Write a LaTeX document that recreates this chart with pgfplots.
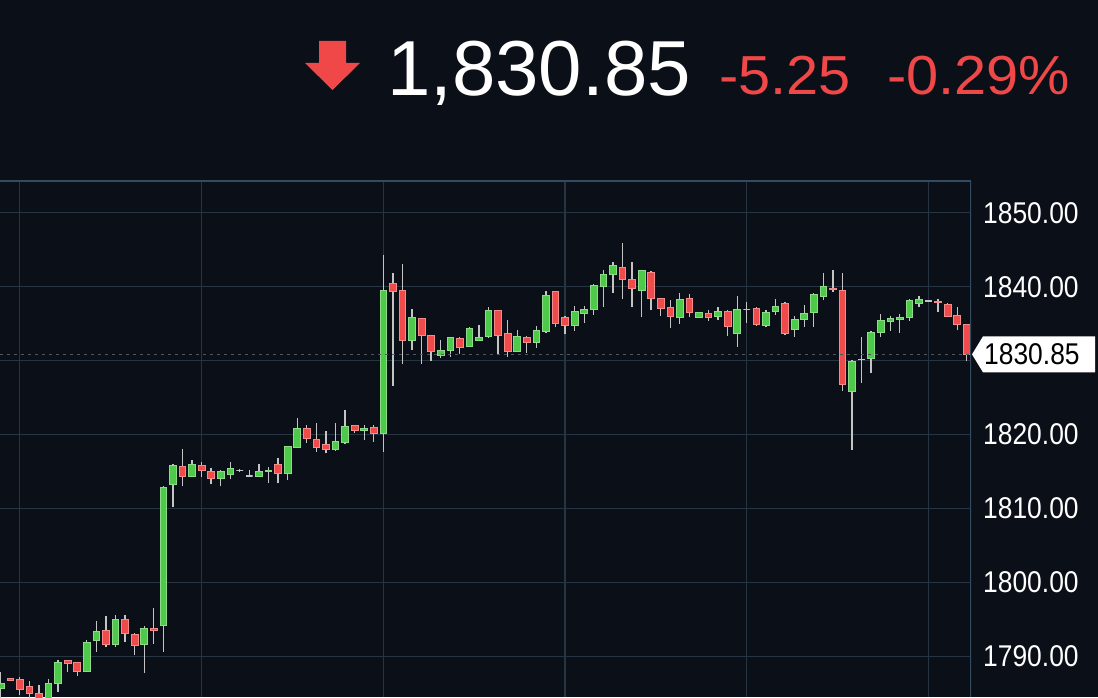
\documentclass[border=0pt]{standalone}
\usepackage{pgfplots}
\pgfplotsset{compat=1.18}
\usepackage{pgfplotstable}
\usepackage{fontspec}
\setmainfont{Liberation Sans}
\newfontfamily\tickfont[FakeStretch=0.88]{Liberation Sans}
\newfontfamily\hdrfont[FakeStretch=1.05]{Liberation Sans}
\definecolor{bg}{HTML}{0B0F17}
\definecolor{gridc}{HTML}{273442}
\definecolor{borderc}{HTML}{364A5F}
\definecolor{upc}{HTML}{4FC94A}
\definecolor{dnc}{HTML}{EF4B4B}
\definecolor{wickc}{HTML}{C4C4C4}
\definecolor{dashc}{HTML}{50565E}
\definecolor{hdrred}{HTML}{F04848}

\pgfplotstableread{
i o h l c
0 1785.7 1787.9 1784.3 1786.4
1 1787.0 1787.1 1786.6 1786.8
2 1786.9 1787.2 1784.8 1785.5
3 1786.0 1786.7 1784.3 1785.0
4 1785.0 1786.1 1783.5 1784.0
5 1784.3 1787.0 1783.8 1786.3
6 1786.3 1789.5 1785.2 1789.2
7 1789.4 1789.5 1787.9 1789.0
8 1789.2 1789.3 1787.3 1788.0
9 1788.0 1792.2 1787.9 1791.9
10 1792.1 1794.8 1790.6 1793.4
11 1793.5 1795.4 1791.2 1791.6
12 1791.6 1795.6 1791.3 1795.0
13 1795.0 1795.6 1791.9 1793.1
14 1793.0 1793.2 1790.2 1791.5
15 1791.6 1794.1 1787.8 1793.8
16 1793.8 1796.5 1791.7 1793.5
17 1794.2 1813.0 1790.6 1812.9
18 1813.3 1816.0 1810.2 1815.8
19 1815.7 1818.0 1813.0 1814.4
20 1814.3 1816.5 1814.2 1816.0
21 1815.8 1816.3 1814.2 1815.1
22 1815.0 1815.5 1813.25 1814.05
23 1814.05 1815.2 1813.0 1814.95
24 1814.6 1816.25 1813.95 1815.4
25 1815.1 1815.3 1814.9 1815.1
26 1814.4 1815.2 1814.3 1814.4
27 1814.3 1816.0 1814.2 1815.05
28 1814.95 1815.6 1813.5 1815.2
29 1816.0 1816.8 1813.4 1814.8
30 1814.8 1818.5 1813.9 1818.4
31 1818.3 1822.3 1818.2 1820.8
32 1820.8 1821.3 1818.9 1819.5
33 1819.3 1821.6 1817.65 1818.25
34 1818.65 1820.5 1817.45 1818.0
35 1818.0 1821.6 1817.8 1819.1
36 1818.9 1823.3 1818.7 1821.1
37 1821.2 1821.3 1820.2 1820.5
38 1820.5 1821.3 1819.3 1820.8
39 1820.95 1821.35 1819.0 1820.2
40 1820.2 1844.3 1817.65 1839.5
41 1840.5 1841.9 1826.6 1839.3
42 1839.45 1843.05 1829.5 1832.7
43 1832.8 1837.05 1831.5 1835.85
44 1835.7 1835.8 1829.6 1833.35
45 1833.45 1833.5 1830.0 1831.2
46 1830.75 1832.8 1830.3 1831.4
47 1831.4 1833.2 1830.5 1833.1
48 1833.0 1833.2 1830.95 1831.8
49 1831.9 1834.5 1831.8 1834.35
50 1832.8 1834.8 1832.7 1833.15
51 1833.3 1837.3 1833.0 1836.8
52 1836.75 1836.9 1830.75 1833.35
53 1833.7 1835.5 1830.5 1831.3
54 1831.3 1834.2 1831.2 1833.3
55 1833.15 1833.3 1831.05 1832.5
56 1832.4 1834.65 1831.7 1834.1
57 1834.0 1839.4 1833.75 1838.85
58 1839.3 1839.4 1834.6 1835.1
59 1835.85 1836.0 1833.55 1834.75
60 1834.7 1837.4 1834.0 1836.7
61 1836.4 1837.4 1835.1 1836.95
62 1836.9 1840.3 1836.15 1840.2
63 1840.1 1842.3 1837.3 1841.65
64 1841.65 1843.4 1839.2 1842.9
65 1842.6 1845.95 1838.3 1841.0
66 1841.0 1843.3 1837.3 1839.8
67 1839.45 1842.3 1835.85 1842.15
68 1842.0 1842.1 1836.8 1838.4
69 1838.4 1838.5 1836.0 1837.05
70 1837.2 1838.2 1834.35 1836.05
71 1835.85 1839.1 1835.0 1838.3
72 1838.4 1839.0 1835.85 1836.5
73 1835.9 1836.6 1835.8 1836.5
74 1836.4 1836.85 1835.35 1835.85
75 1836.05 1837.3 1835.5 1836.7
76 1836.7 1836.9 1833.3 1834.6
77 1833.7 1838.7 1831.9 1836.9
78 1836.95 1837.95 1835.1 1836.95
79 1837.05 1837.2 1834.7 1834.9
80 1834.7 1836.85 1834.5 1836.5
81 1836.6 1838.4 1836.15 1837.4
82 1837.75 1837.95 1833.45 1833.75
83 1834.25 1836.0 1833.2 1835.55
84 1835.55 1837.5 1834.6 1836.4
85 1836.5 1839.2 1834.6 1839.0
86 1838.65 1841.9 1838.2 1840.1
87 1839.75 1842.25 1839.3 1839.6
88 1839.55 1841.9 1825.9 1826.8
89 1825.8 1830.15 1817.9 1829.85
90 1830.15 1833.15 1827.0 1830.15
91 1830.25 1834.0 1828.35 1833.85
92 1833.8 1836.3 1833.15 1835.5
93 1835.25 1836.0 1834.0 1835.7
94 1835.55 1836.3 1833.75 1835.85
95 1835.85 1838.4 1835.4 1838.2
96 1837.8 1838.7 1837.3 1838.3
97 1838.05 1838.2 1837.9 1838.05
98 1837.95 1838.4 1836.6 1837.85
99 1837.65 1837.8 1835.9 1836.0
100 1836.15 1837.2 1834.1 1834.95
101 1834.9 1835.0 1829.9 1830.85
}\candles

\begin{document}
\begin{tikzpicture}[x=1pt,y=1pt]
\fill[bg] (0,0) rectangle (1098,697);
\begin{axis}[at={(0pt,0pt)}, anchor=south west, scale only axis,
  width=971pt, height=516pt,
  xmin=-0.073, xmax=101.44, ymin=1784.5, ymax=1854.3,
  axis line style={draw=none},
  xtick={2,21,40,59,78,97}, xticklabels={},
  ytick={1790,1800,1810,1820,1830,1840,1850},
  yticklabels={1790.00,1800.00,1810.00,1820.00,,1840.00,1850.00},
  grid=major, grid style={gridc, line width=1.2pt},
  major tick length=0pt,
  ytick pos=right, yticklabel pos=right,
  yticklabel style={font=\tickfont\fontsize{30}{36}\selectfont, text=white, anchor=west, inner sep=0pt, xshift=12pt},
  wick/.style={draw=wickc, line width=1.3pt, mark=none},
  bodyup/.style={fill=upc, draw=upc!65!white, line width=0.8pt, mark=none},
  bodydn/.style={fill=dnc, draw=dnc!65!white, line width=0.8pt, mark=none},
  bodydj/.style={fill=wickc, draw=wickc, line width=1.3pt, mark=none},
]
\pgfplotsinvokeforeach{0,...,101}{%
  \pgfplotstablegetelem{#1}{o}\of\candles \edef\O{\pgfplotsretval}%
  \pgfplotstablegetelem{#1}{h}\of\candles \edef\H{\pgfplotsretval}%
  \pgfplotstablegetelem{#1}{l}\of\candles \edef\L{\pgfplotsretval}%
  \pgfplotstablegetelem{#1}{c}\of\candles \edef\C{\pgfplotsretval}%
  \pgfmathsetmacro\xa{#1-0.35}%
  \pgfmathsetmacro\xb{#1+0.35}%
  \ifdim\C pt>\O pt \def\cc{up}\else\ifdim\C pt<\O pt \def\cc{dn}\else\def\cc{dj}\fi\fi
  \edef\doit{\noexpand\addplot[wick] coordinates {(#1,\L) (#1,\H)};
    \noexpand\addplot[body\cc] coordinates {(\xa,\O) (\xb,\O) (\xb,\C) (\xa,\C)} -- cycle;}%
  \doit
}
\draw[dashc, line width=1.5pt, dash pattern=on 3pt off 4pt] (axis cs:-0.073,1830.85) -- (axis cs:101.44,1830.85);
\draw[borderc, line width=1.8pt] (rel axis cs:0,1) -- (rel axis cs:1,1) -- (rel axis cs:1,0);
\coordinate (lp) at (axis cs:101.44,1830.85);
\end{axis}
\begin{scope}[shift={(lp)}]
\fill[white] (1,0) -- (12,18) -- (124,18) -- (124,-18) -- (12,-18) -- cycle;
\node[anchor=west, inner sep=0pt, text=black, font=\tickfont\fontsize{30}{36}\selectfont] at (13,0) {1830.85};
\end{scope}
% header
\fill[hdrred] (319,656) -- (346,656) -- (346,634) -- (360,634) -- (332.5,607) -- (305,634) -- (319,634) -- cycle;
\node[anchor=base west, inner sep=0pt, text=white, font=\fontsize{78}{90}\selectfont] at (387,601) {1,830.85};
\node[anchor=base west, inner sep=0pt, text=hdrred, font=\hdrfont\fontsize{55}{62}\selectfont] at (719,602) {-5.25};
\node[anchor=base west, inner sep=0pt, text=hdrred, font=\hdrfont\fontsize{55}{62}\selectfont] at (887,602) {-0.29\%};
\pgfresetboundingbox
\path[use as bounding box] (0,0) rectangle (1098,697);
\end{tikzpicture}
\end{document}
